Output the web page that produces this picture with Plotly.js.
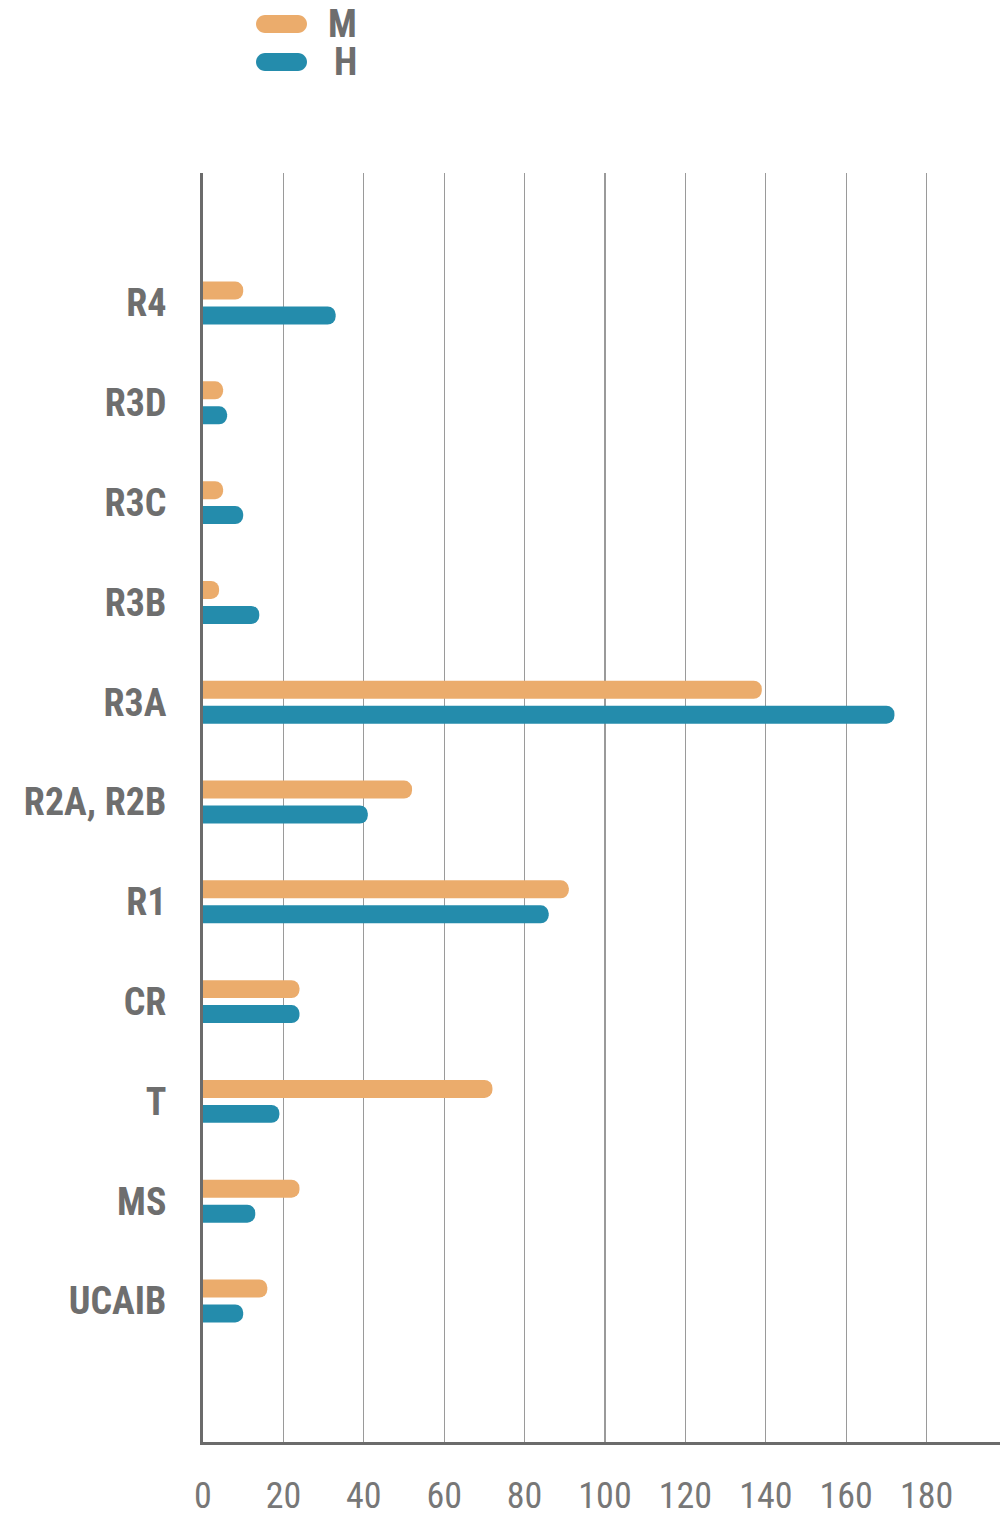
<!DOCTYPE html>
<html><head><meta charset="utf-8">
<script src="https://cdn.plot.ly/plotly-3.0.1.min.js"></script>
<style>html,body{margin:0;padding:0;background:#fff}#chart{width:1001px;height:1518px}</style>
</head><body><div id="chart"></div>
<script>
const categories = ['R4','R3D','R3C','R3B','R3A','R2A, R2B','R1','CR','T','MS','UCAIB'];
const seriesNames = ['M','H'];
const valuesM = [10,5,5,4,139,52,91,24,72,24,16];
const valuesH = [33,6,10,14,172,41,86,24,19,13,10];
const xTickValues = [0,20,40,60,80,100,120,140,160,180];
const seriesColors = ['#EBAC6C','#248CAC'];

const FONT = '"Roboto Condensed", "Liberation Sans Narrow", Roboto, sans-serif';
const L = 203, R = 1, T = 173, B = 76, WIDTH = 1001, HEIGHT = 1518;
const PW = WIDTH - L - R, PH = HEIGHT - T - B;
const px = x => (x - L) / PW;
const py = y => (HEIGHT - B - y) / PH;

function pill(x0, x1, y0, y1) {
  const r = (y1 - y0) / 2, yc = (y0 + y1) / 2, k = 0.5523 * r;
  const P = (x, y) => px(x).toFixed(5) + ',' + py(y).toFixed(5);
  return 'M' + P(x0 + r, y0) + ' L' + P(x1 - r, y0) +
    ' C' + P(x1 - r + k, y0) + ' ' + P(x1, yc - k) + ' ' + P(x1, yc) +
    ' C' + P(x1, yc + k) + ' ' + P(x1 - r + k, y1) + ' ' + P(x1 - r, y1) +
    ' L' + P(x0 + r, y1) +
    ' C' + P(x0 + r - k, y1) + ' ' + P(x0, yc + k) + ' ' + P(x0, yc) +
    ' C' + P(x0, yc - k) + ' ' + P(x0 + r - k, y0) + ' ' + P(x0 + r, y0) + ' Z';
}

const seriesValues = [valuesM, valuesH];
const traces = seriesNames.map((name, i) => ({
  type: 'bar', orientation: 'h', name: name,
  y: categories, x: seriesValues[i],
  marker: {color: seriesColors[i], cornerradius: 8, line: {width: 0}},
  hoverinfo: 'skip'
}));

const legendCentersY = [24, 62];
const shapes = seriesNames.map((n, i) => ({
  type: 'path', xref: 'paper', yref: 'paper',
  path: pill(256, 307, legendCentersY[i] - 9, legendCentersY[i] + 9),
  fillcolor: seriesColors[i], line: {width: 0}
}));
const annotations = seriesNames.map((n, i) => ({
  xref: 'paper', yref: 'paper', x: px(359), y: py(legendCentersY[i]),
  xanchor: 'right', yanchor: 'middle', text: n, showarrow: false,
  height: 36, valign: 'middle',
  font: {family: FONT, size: 38, color: '#6e6e6e', weight: 'bold'}
}));

const layout = {
  width: WIDTH, height: HEIGHT,
  margin: {l: L, r: R, t: T, b: B, pad: 0},
  paper_bgcolor: '#fff', plot_bgcolor: '#fff',
  showlegend: false,
  barmode: 'group', bargap: 0.5, bargroupgap: 0.28,
  hovermode: false,
  xaxis: {
    range: [0, PW / 4.02], tickvals: xTickValues, ticktext: xTickValues.map(String),
    showgrid: true, gridcolor: '#9a9a9a', gridwidth: 1.3, zeroline: false,
    showline: true, linecolor: '#6b6b6b', linewidth: 3,
    ticks: '', ticklabelstandoff: 20,
    tickfont: {family: FONT, size: 36, color: '#777777'}
  },
  yaxis: {
    type: 'category', categoryorder: 'array', categoryarray: categories,
    range: [11.413, -1.303],
    showgrid: false, zeroline: false,
    showline: true, linecolor: '#6b6b6b', linewidth: 3,
    ticks: '', ticklabelstandoff: 26,
    tickfont: {family: FONT, size: 38, color: '#6e6e6e', weight: 'bold'}
  },
  shapes: shapes,
  annotations: annotations
};

Plotly.newPlot('chart', traces, layout, {staticPlot: true, displayModeBar: false});
</script></body></html>
